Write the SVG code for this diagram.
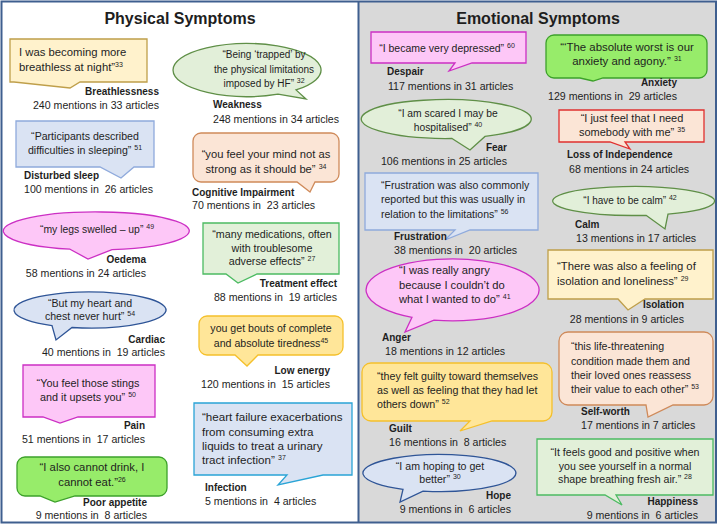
<svg xmlns="http://www.w3.org/2000/svg" width="718" height="528" viewBox="0 0 718 528">
<style>
text{font-family:"Liberation Sans",Arial,sans-serif;fill:#1e1e1e;white-space:pre}
.b{font-size:10px;font-weight:bold}
.m{font-size:10.6px}
.s{font-size:7px}
.h{font-size:16px;font-weight:bold}
.c{text-anchor:middle}
.e{text-anchor:end}
path,ellipse{stroke-width:1.3}
.yl{fill:#fff2cc;stroke:#bf9f4a}
.bl{fill:#dae3f3;stroke:#8faadc}
.gn{fill:#e2efd9;stroke:#5f8f47}
.pc{fill:#fbe5d6;stroke:#cf8a5a}
.pk{fill:#fdc7f7;stroke:#cc2fc4}
.tg{fill:#e2f0d9;stroke:#4cbb62}
.db{fill:#dae3f3;stroke:#2f5597}
.yo{fill:#ffe699;stroke:#f5c02b}
.cy{fill:#dae3f3;stroke:#2aa4d6}
.bg{fill:#97ec6a;stroke:#3da12b}
.rd{fill:#fbe5d6;stroke:#e0302f}
</style>
<rect x="0" y="0" width="718" height="528" fill="#ffffff"/>
<rect x="359" y="2" width="356" height="520" fill="#d9d9d9"/>
<rect x="1.5" y="1.5" width="714.5" height="521" fill="none" stroke="#3f5f8f" stroke-width="2"/>
<line x1="358.5" y1="2" x2="358.5" y2="522" stroke="#3f5f8f" stroke-width="2"/>
<text class="h c" x="180" y="24">Physical Symptoms</text>
<text class="h c" x="538" y="24">Emotional Symptoms</text>

<g id="breathlessness">
<path class="yl" d="M10,39 H147 V82 H80 L70,88 L14,82 H10 Z"/>
<text x="19" y="56" style="font-size:11.3px">I was becoming more</text>
<text x="19" y="71" style="font-size:11.3px">breathless at night”<tspan class="s" dy="-4">33</tspan></text>
<text class="b e" x="159" y="95">Breathlessness</text>
<text class="m e" x="159" y="109">240 mentions in 33 articles</text>
</g>

<g id="weakness">
<path class="gn" d="M278,94.1 L306,99 L296,89.9 A74,26.5 0 1 0 278,94.1 Z"/>
<text class="c" x="264" y="58" style="font-size:10px">“Being ‘trapped’ by</text>
<text class="c" x="264" y="73" style="font-size:10px">the physical limitations</text>
<text class="c" x="264" y="87" style="font-size:10px">imposed by HF” <tspan class="s" dy="-4">32</tspan></text>
<text class="b" x="213" y="108">Weakness</text>
<text class="m" x="213" y="123">248 mentions in 34 articles</text>
</g>

<g id="disturbed-sleep">
<path class="bl" d="M16,121 H154 V167 H134 L121,178 L100,167 H16 Z"/>
<text class="c" x="85" y="140" style="font-size:10.6px">“Participants described</text>
<text class="c" x="85" y="154" style="font-size:10.6px">difficulties in sleeping” <tspan class="s" dy="-4">51</tspan></text>
<text class="b" x="24" y="179">Disturbed sleep</text>
<text class="m" x="24" y="193">100 mentions in  26 articles</text>
</g>

<g id="cognitive-impairment">
<path class="pc" d="M201,133 H331 A8,8 0 0 1 339,141 V174 A8,8 0 0 1 331,182 H315 L310,192 L297,182 H201 A8,8 0 0 1 193,174 V141 A8,8 0 0 1 201,133 Z"/>
<text class="c" x="266" y="158" style="font-size:11.2px">“you feel your mind not as</text>
<text class="c" x="266" y="173" style="font-size:11.2px">strong as it should be” <tspan class="s" dy="-4">34</tspan></text>
<text class="b" x="192" y="196">Cognitive Impairment</text>
<text class="m" x="192" y="209">70 mentions in  23 articles</text>
</g>

<g id="oedema">
<path class="pk" d="M70,249.2 L88,259 L112,249.7 A93,19 0 1 0 70,249.2 Z"/>
<text class="c" x="97" y="233" style="font-size:10.4px">“my legs swelled – up” <tspan class="s" dy="-4">49</tspan></text>
<text class="b e" x="146" y="263">Oedema</text>
<text class="m e" x="146" y="277">58 mentions in 24 articles</text>
</g>

<g id="treatment-effect">
<path class="tg" d="M203,223 H339 V274 H257 L238,283 L226,274 H203 Z"/>
<text class="c" x="272" y="238" style="font-size:10.7px">“many medications, often</text>
<text class="c" x="272" y="252" style="font-size:10.7px">with troublesome</text>
<text class="c" x="272" y="265" style="font-size:10.7px">adverse effects” <tspan class="s" dy="-4">27</tspan></text>
<text class="b e" x="337" y="287">Treatment effect</text>
<text class="m e" x="337" y="301">88 mentions in  19 articles</text>
</g>

<g id="cardiac">
<path class="db" d="M52,325.6 L56,340 L72,327.5 A76,18 0 1 0 52,325.6 Z"/>
<text class="c" x="90" y="307" style="font-size:10.6px">“But my heart and</text>
<text class="c" x="90" y="320" style="font-size:10.6px">chest never hurt” <tspan class="s" dy="-4">54</tspan></text>
<text class="b e" x="165" y="343">Cardiac</text>
<text class="m e" x="165" y="356">40 mentions in  19 articles</text>
</g>

<g id="low-energy">
<path class="yo" d="M207,316 H335 A8,8 0 0 1 343,324 V347 A8,8 0 0 1 335,355 H258 L247,366 L235,355 H207 A8,8 0 0 1 199,347 V324 A8,8 0 0 1 207,316 Z"/>
<text class="c" x="271" y="332" style="font-size:10.6px">you get bouts of complete</text>
<text class="c" x="271" y="347" style="font-size:10.6px">and absolute tiredness<tspan class="s" dy="-4">45</tspan></text>
<text class="b e" x="330" y="374">Low energy</text>
<text class="m e" x="330" y="388">120 mentions in  15 articles</text>
</g>

<g id="pain">
<path class="pk" d="M23,365 H155 V417 H78 L60,423 L43,417 H23 Z"/>
<text class="c" x="88" y="387" style="font-size:10.8px">“You feel those stings</text>
<text class="c" x="88" y="401" style="font-size:10.8px">and it upsets you” <tspan class="s" dy="-4">50</tspan></text>
<text class="b e" x="145" y="429">Pain</text>
<text class="m e" x="145" y="443">51 mentions in  17 articles</text>
</g>

<g id="infection">
<path class="cy" d="M194,403 H352 V475 H323 L278,485 L287,475 H194 Z"/>
<text x="202" y="421" style="font-size:11.6px">“heart failure exacerbations</text>
<text x="202" y="436" style="font-size:11.6px">from consuming extra</text>
<text x="202" y="450" style="font-size:11.6px">liquids to treat a urinary</text>
<text x="202" y="464" style="font-size:11.6px">tract infection” <tspan class="s" dy="-4">37</tspan></text>
<text class="b" x="205" y="491">Infection</text>
<text class="m" x="205" y="505">5 mentions in  4 articles</text>
</g>

<g id="poor-appetite">
<path class="bg" d="M25,457 H159 A8,8 0 0 1 167,465 V488 A8,8 0 0 1 159,496 H75 L55,502 L40,496 H25 A8,8 0 0 1 17,488 V465 A8,8 0 0 1 25,457 Z"/>
<text class="c" x="92" y="471" style="font-size:11.3px">“I also cannot drink, I</text>
<text class="c" x="92" y="486" style="font-size:11.3px">cannot eat.”<tspan class="s" dy="-4">26</tspan></text>
<text class="b e" x="147" y="506">Poor appetite</text>
<text class="m e" x="147" y="519">9 mentions in  8 articles</text>
</g>

<g id="despair">
<path class="pk" d="M371,32 H526 V63 H472 L449,71 L455,63 H371 Z"/>
<text class="c" x="447" y="52" style="font-size:10.5px">“I became very depressed” <tspan class="s" dy="-4">60</tspan></text>
<text class="b" x="387" y="75">Despair</text>
<text class="m" x="388" y="90">117 mentions in 31 articles</text>
</g>

<g id="anxiety">
<path class="bg" d="M554,35 H699 A8,8 0 0 1 707,43 V70 A8,8 0 0 1 699,78 H603 L593,81 L580,78 H554 A8,8 0 0 1 546,70 V43 A8,8 0 0 1 554,35 Z"/>
<text class="c" x="627" y="51" style="font-size:11.4px">“‘The absolute worst is our</text>
<text class="c" x="627" y="65" style="font-size:11.4px">anxiety and agony.” <tspan class="s" dy="-4">31</tspan></text>
<text class="b e" x="677" y="86">Anxiety</text>
<text class="m e" x="677" y="100">129 mentions in  29 articles</text>
</g>

<g id="fear">
<path class="gn" d="M452,138.5 L470,150 L485,136.4 A85,19.5 0 1 0 452,138.5 Z"/>
<text class="c" x="448" y="117" style="font-size:10.3px">“I am scared I may be</text>
<text class="c" x="448" y="131" style="font-size:10.3px">hospitalised” <tspan class="s" dy="-4">40</tspan></text>
<text class="b e" x="507" y="151">Fear</text>
<text class="m e" x="507" y="165">106 mentions in 25 articles</text>
</g>

<g id="loss-of-independence">
<path class="rd" d="M559,110 H704 V142 H625 L630,149 L610,142 H559 Z"/>
<text class="c" x="632" y="122" style="font-size:11px">“I just feel that I need</text>
<text class="c" x="632" y="136" style="font-size:11px">somebody with me” <tspan class="s" dy="-4">35</tspan></text>
<text class="b" x="567" y="158">Loss of Independence</text>
<text class="m" x="569" y="173">68 mentions in 24 articles</text>
</g>

<g id="frustration">
<path class="bl" d="M365,173 H538 V230 H470 L445,240 L455,230 H365 Z"/>
<text x="381" y="189" style="font-size:10.5px">“Frustration was also commonly</text>
<text x="381" y="203" style="font-size:10.5px">reported but this was usually in</text>
<text x="381" y="218" style="font-size:10.5px">relation to the limitations” <tspan class="s" dy="-4">56</tspan></text>
<text class="b" x="394" y="240">Frustration</text>
<text class="m" x="394" y="254">38 mentions in  20 articles</text>
</g>

<g id="calm">
<path class="gn" d="M646,215.3 L665,229 L668,214.1 A81,14.5 0 1 0 646,215.3 Z"/>
<text class="c" x="630" y="204" style="font-size:10px">“I have to be calm” <tspan class="s" dy="-4">42</tspan></text>
<text class="b" x="575" y="228">Calm</text>
<text class="m" x="576" y="242">13 mentions in 17 articles</text>
</g>

<g id="anger">
<path class="pk" d="M412,317.3 L405,332 L434,320.2 A86.5,31 0 1 0 412,317.3 Z"/>
<text x="399" y="274" style="font-size:11.2px">“I was really angry</text>
<text x="399" y="289" style="font-size:11.2px">because I couldn’t do</text>
<text x="399" y="303" style="font-size:11.2px">what I wanted to do” <tspan class="s" dy="-4">41</tspan></text>
<text class="b" x="382" y="341">Anger</text>
<text class="m" x="385" y="355">18 mentions in 12 articles</text>
</g>

<g id="isolation">
<path class="yl" d="M548,250 H713 V299 H645 L628,310 L618,299 H548 Z"/>
<text x="557" y="270" style="font-size:11.3px">“There was also a feeling of</text>
<text x="557" y="285" style="font-size:11.3px">isolation and loneliness” <tspan class="s" dy="-4">29</tspan></text>
<text class="b e" x="684" y="308">Isolation</text>
<text class="m e" x="684" y="323">28 mentions in 9 articles</text>
</g>

<g id="guilt">
<path class="yo" d="M371,363 H543 A9,9 0 0 1 552,372 V412 A9,9 0 0 1 543,421 H492 L460,431 L470,421 H371 A9,9 0 0 1 362,412 V372 A9,9 0 0 1 371,363 Z"/>
<text x="377" y="380" style="font-size:10.7px">“they felt guilty toward themselves</text>
<text x="377" y="394" style="font-size:10.7px">as well as feeling that they had let</text>
<text x="377" y="408" style="font-size:10.7px">others down” <tspan class="s" dy="-4">52</tspan></text>
<text class="b" x="389" y="432">Guilt</text>
<text class="m" x="389" y="446">16 mentions in  8 articles</text>
</g>

<g id="self-worth">
<path class="pc" d="M568,332 H704 A9,9 0 0 1 713,341 V396 A9,9 0 0 1 704,405 H673 L648,417 L646,405 H568 A9,9 0 0 1 559,396 V341 A9,9 0 0 1 568,332 Z"/>
<text x="571" y="350" style="font-size:10.6px">“this life-threatening</text>
<text x="571" y="365" style="font-size:10.6px">condition made them and</text>
<text x="571" y="379" style="font-size:10.6px">their loved ones reassess</text>
<text x="571" y="393" style="font-size:10.6px">their value to each other” <tspan class="s" dy="-4">53</tspan></text>
<text class="b" x="581" y="415">Self-worth</text>
<text class="m" x="581" y="429">17 mentions in 7 articles</text>
</g>

<g id="hope">
<path class="db" d="M403,489.3 L400,502 L423,491.1 A76.5,18.5 0 1 0 403,489.3 Z"/>
<text class="c" x="440" y="470" style="font-size:10.6px">“I am hoping to get</text>
<text class="c" x="440" y="483" style="font-size:10.6px">better” <tspan class="s" dy="-4">30</tspan></text>
<text class="b e" x="511" y="499">Hope</text>
<text class="m e" x="511" y="513">9 mentions in  6 articles</text>
</g>

<g id="happiness">
<path class="tg" d="M537,439 H713 V495 H616 L622,505 L605,495 H537 Z"/>
<text class="c" x="625" y="456" style="font-size:10.6px">“It feels good and positive when</text>
<text class="c" x="625" y="470" style="font-size:10.6px">you see yourself in a normal</text>
<text class="c" x="625" y="483" style="font-size:10.6px">shape breathing fresh air.” <tspan class="s" dy="-4">28</tspan></text>
<text class="b e" x="698" y="505">Happiness</text>
<text class="m e" x="698" y="519">9 mentions in  6 articles</text>
</g>
</svg>
